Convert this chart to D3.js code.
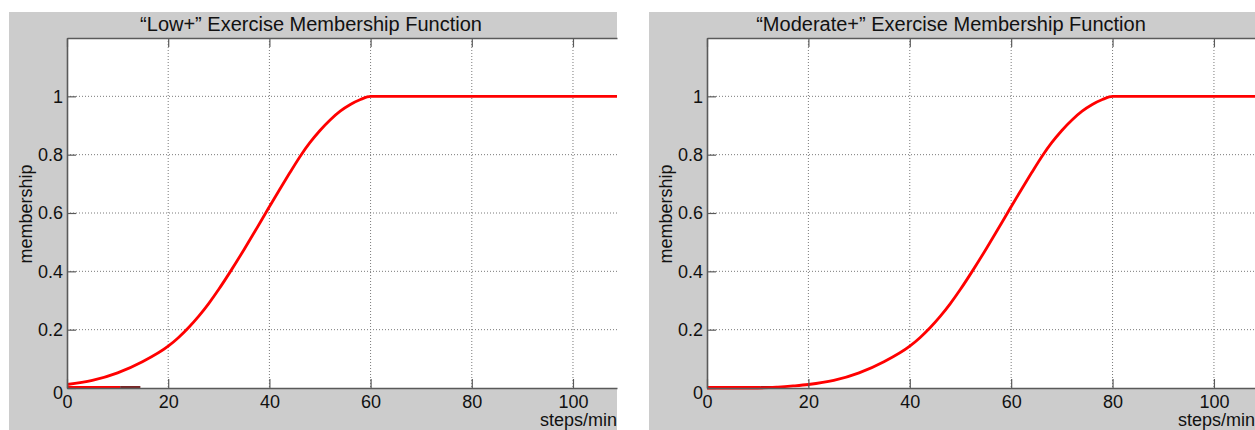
<!DOCTYPE html>
<html>
<head>
<meta charset="utf-8">
<script src="https://cdn.jsdelivr.net/npm/d3@7"></script>
<style>
  html, body { margin: 0; padding: 0; background: #ffffff; }
  svg { display: block; }
  text { font-family: "Liberation Sans", Arial, sans-serif; fill: #111; }
</style>
</head>
<body>
<svg id="chart" width="1255" height="430"></svg>
<script>
// ---- data ----
const titles = ["\u201CLow+\u201D Exercise Membership Function", "\u201CModerate+\u201D Exercise Membership Function"];
const xLabel = "steps/min";
const yLabel = "membership";
const xTicks = [0, 20, 40, 60, 80, 100];
const yTicks = [0, 0.2, 0.4, 0.6, 0.8, 1];
const yTickLabels = ["0", "0.2", "0.4", "0.6", "0.8", "1"];

const lowX = [0, 5, 10, 15, 20, 22, 24, 26, 28, 30, 32.5, 35, 37, 39.3, 42, 44, 46.3, 48, 50, 52, 54, 56, 58, 60, 70, 85, 100, 110];
const lowY = [0.012, 0.026, 0.052, 0.091, 0.1435, 0.1725, 0.2065, 0.2455, 0.2895, 0.3385, 0.405, 0.475, 0.533, 0.601, 0.68, 0.737, 0.8, 0.841, 0.883, 0.919, 0.949, 0.972, 0.989, 1, 1, 1, 1, 1];

const modX = [0, 10, 14, 17, 20, 25, 30, 35, 40, 42, 44, 46, 48, 50, 52.5, 55, 57, 59.3, 62, 64, 66.3, 68, 70, 72, 74, 76, 78, 80, 90, 100, 110];
const modY = [0, 0, 0.003, 0.007, 0.012, 0.026, 0.052, 0.091, 0.1435, 0.1725, 0.2065, 0.2455, 0.2895, 0.3385, 0.405, 0.475, 0.533, 0.601, 0.68, 0.737, 0.8, 0.841, 0.883, 0.919, 0.949, 0.972, 0.989, 1, 1, 1, 1];

// short zero-level segments seen along the x axis
const baseRedX = [0, 10.5];
const baseDarkX = [10.5, 14.5];

const xMax = [108.7, 108.1];
const yMax = 1.2;

// ---- layout ----
const panelsLayout = [
  { left: 67, right: 617, bgLeft: 9, bgRight: 617 },
  { left: 707, right: 1255, bgLeft: 649, bgRight: 1255 }
];
const plotTop = 38, plotBottom = 388, bgTop = 12, bgBottom = 430;

const series = [
  lowX.map((x, i) => ({ x, y: lowY[i] })),
  modX.map((x, i) => ({ x, y: modY[i] }))
];

const svg = d3.select("#chart");

panelsLayout.forEach((L, p) => {
  const g = svg.append("g");
  const x = d3.scaleLinear().domain([0, xMax[p]]).range([L.left, L.right]);
  const y = d3.scaleLinear().domain([0, yMax]).range([plotBottom, plotTop]);

  g.append("rect")
    .attr("x", L.bgLeft).attr("y", bgTop)
    .attr("width", L.bgRight - L.bgLeft).attr("height", bgBottom - bgTop)
    .attr("fill", "#cccccc");
  g.append("rect")
    .attr("x", L.left).attr("y", plotTop)
    .attr("width", L.right - L.left).attr("height", plotBottom - plotTop)
    .attr("fill", "#ffffff");

  // grid
  g.append("g").selectAll("line")
    .data(xTicks.filter(d => d > 0))
    .join("line")
    .attr("x1", d => x(d)).attr("x2", d => x(d))
    .attr("y1", plotTop).attr("y2", plotBottom)
    .attr("stroke", "#7a7a7a").attr("stroke-width", 1)
    .attr("stroke-dasharray", "1,2");
  g.append("g").selectAll("line")
    .data(yTicks.filter(d => d > 0))
    .join("line")
    .attr("x1", L.left).attr("x2", L.right)
    .attr("y1", d => y(d)).attr("y2", d => y(d))
    .attr("stroke", "#7a7a7a").attr("stroke-width", 1)
    .attr("stroke-dasharray", "1,2");

  const clipId = "clip" + p;
  svg.append("clipPath").attr("id", clipId)
    .append("rect").attr("x", L.left).attr("y", plotTop - 3)
    .attr("width", L.right - L.left).attr("height", plotBottom - plotTop + 6);

  // baseline segments
  g.append("line")
    .attr("x1", x(baseRedX[0])).attr("x2", x(baseRedX[1]))
    .attr("y1", y(0) - 1).attr("y2", y(0) - 1)
    .attr("stroke", "#ff0000").attr("stroke-width", 2);
  g.append("line")
    .attr("x1", x(baseDarkX[0])).attr("x2", x(baseDarkX[1]))
    .attr("y1", y(0) - 1).attr("y2", y(0) - 1)
    .attr("stroke", "#7a2626").attr("stroke-width", 2);

  // curve
  const line = d3.line().x(d => x(d.x)).y(d => y(d.y)).curve(d3.curveMonotoneX);
  g.append("path")
    .datum(series[p])
    .attr("clip-path", "url(#" + clipId + ")")
    .attr("d", line)
    .attr("fill", "none")
    .attr("stroke", "#ff0000")
    .attr("stroke-width", 2.8)
    .attr("stroke-linejoin", "round");

  // axes
  const axColor = "#5a5a5a";
  const xAxis = g.append("g")
    .attr("transform", `translate(0,${plotBottom})`)
    .call(d3.axisBottom(x).tickValues(xTicks).tickFormat(d3.format("d"))
      .tickSizeInner(-9).tickSizeOuter(0).tickPadding(7));
  const xTop = g.append("g")
    .attr("transform", `translate(0,${plotTop})`)
    .call(d3.axisTop(x).tickValues(xTicks).tickFormat("")
      .tickSizeInner(-9).tickSizeOuter(0));
  const yAxis = g.append("g")
    .attr("transform", `translate(${L.left},0)`)
    .call(d3.axisLeft(y).tickValues(yTicks).tickFormat((d, i) => yTickLabels[i])
      .tickSizeInner(-9).tickSizeOuter(0).tickPadding(4));

  [xAxis, xTop, yAxis].forEach(a => {
    a.select(".domain").attr("stroke", axColor).attr("stroke-width", 1.6);
    a.selectAll(".tick line").attr("stroke", axColor).attr("stroke-width", 1.2);
    a.selectAll("text")
      .attr("font-family", "'Liberation Sans', Arial, sans-serif")
      .attr("font-size", 18).attr("fill", "#111");
  });
  xAxis.selectAll("text").attr("dy", "0.71em");
  yAxis.selectAll(".tick").filter(d => d === 0).select("text").attr("dy", "0.75em").attr("y", -3);

  // title
  g.append("text")
    .attr("x", L.left + 244).attr("y", 31)
    .attr("text-anchor", "middle")
    .attr("font-size", 20)
    .text(titles[p]);

  // x label
  g.append("text")
    .attr("x", L.right).attr("y", 426)
    .attr("text-anchor", "end")
    .attr("font-size", 18)
    .text(xLabel);

  // y label
  g.append("text")
    .attr("transform", `translate(${L.left - 35},214) rotate(-90)`)
    .attr("text-anchor", "middle")
    .attr("font-size", 18)
    .text(yLabel);
});
</script>
</body>
</html>
